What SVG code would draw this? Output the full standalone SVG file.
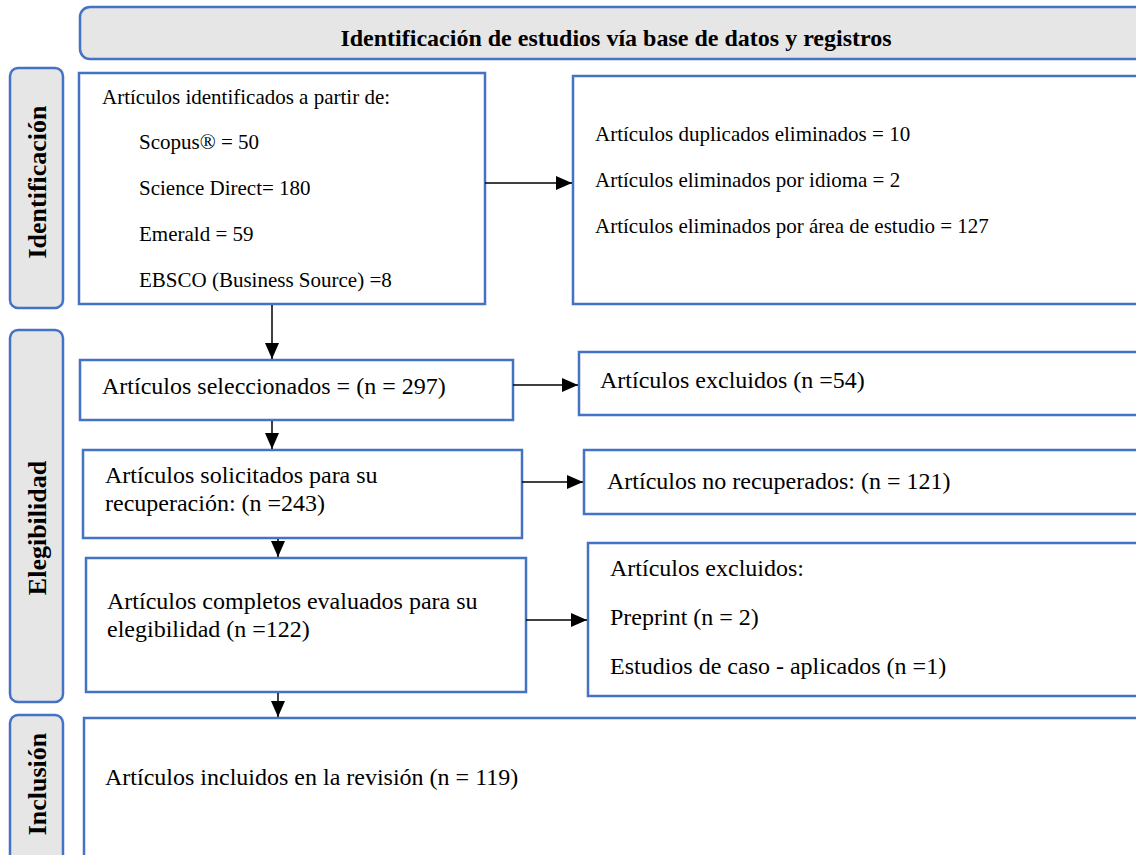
<svg xmlns="http://www.w3.org/2000/svg" width="1136" height="855" viewBox="0 0 1136 855">
<style>
.box{fill:#ffffff;stroke:#4472C4;stroke-width:2.5}
.lab{fill:#E7E6E6;stroke:#4472C4;stroke-width:2.5}
.t{font-family:"Liberation Serif","Times New Roman",serif;fill:#000}
.s21{font-size:21px}
.s24{font-size:24px}
.b{font-weight:bold}
.c{stroke:#000;stroke-width:1.5;fill:none;marker-end:url(#ah)}
</style>
<defs>
<marker id="ah" markerUnits="userSpaceOnUse" markerWidth="16" markerHeight="14" refX="16" refY="7" orient="auto">
<path d="M0,0 L16,7 L0,14 z" fill="#000"/>
</marker>
<clipPath id="hclip"><rect x="80" y="7" width="1080" height="44"/></clipPath>
</defs>
<rect width="1136" height="855" fill="#ffffff"/>

<g id="header">
<rect class="lab" x="80" y="7" width="1080" height="52" rx="10"/>
<text class="t b s24" x="616" y="46" text-anchor="middle" clip-path="url(#hclip)">Identificación de estudios vía base de datos y registros</text>
</g>

<g id="label-identificacion">
<rect class="lab" x="10" y="68" width="53" height="240" rx="8"/>
<text class="t b" font-size="26" transform="translate(46,182) rotate(-90)" text-anchor="middle">Identificación</text>
</g>

<g id="label-elegibilidad">
<rect class="lab" x="10" y="330" width="53" height="372" rx="8"/>
<text class="t b" font-size="26" transform="translate(46,528) rotate(-90)" text-anchor="middle">Elegibilidad</text>
</g>

<g id="label-inclusion">
<rect class="lab" x="10" y="715" width="53" height="200" rx="8"/>
<text class="t b" font-size="26" transform="translate(46,784) rotate(-90)" text-anchor="middle">Inclusión</text>
</g>

<g id="n-identificados">
<rect class="box" x="79" y="73" width="406" height="231"/>
<text class="t s21" x="102" y="104">Artículos identificados a partir de:</text>
<text class="t s21" x="139" y="149">Scopus® = 50</text>
<text class="t s21" x="139" y="195">Science Direct= 180</text>
<text class="t s21" x="139" y="241">Emerald = 59</text>
<text class="t s21" x="139" y="287">EBSCO (Business Source) =8</text>
</g>

<g id="n-eliminados">
<rect class="box" x="573" y="76" width="600" height="228"/>
<text class="t s21" x="595" y="141">Artículos duplicados eliminados = 10</text>
<text class="t s21" x="595" y="187">Artículos eliminados por idioma = 2</text>
<text class="t s21" x="595" y="233">Artículos eliminados por área de estudio = 127</text>
</g>

<g id="n-seleccionados">
<rect class="box" x="80" y="360" width="433" height="60"/>
<text class="t s24" x="102" y="394">Artículos seleccionados = (n = 297)</text>
</g>

<g id="n-excluidos1">
<rect class="box" x="579" y="352" width="600" height="63"/>
<text class="t s24" x="600" y="388">Artículos excluidos (n =54)</text>
</g>

<g id="n-solicitados">
<rect class="box" x="83" y="450" width="439" height="88"/>
<text class="t s24" x="105" y="483">Artículos solicitados para su</text>
<text class="t s24" x="105" y="511">recuperación: (n =243)</text>
</g>

<g id="n-norecuperados">
<rect class="box" x="584" y="450" width="600" height="64"/>
<text class="t s24" x="607" y="489">Artículos no recuperados: (n = 121)</text>
</g>

<g id="n-evaluados">
<rect class="box" x="86" y="558" width="440" height="134"/>
<text class="t s24" x="107" y="609">Artículos completos evaluados para su</text>
<text class="t s24" x="107" y="637">elegibilidad (n =122)</text>
</g>

<g id="n-excluidos2">
<rect class="box" x="588" y="543" width="600" height="153"/>
<text class="t s24" x="610" y="576">Artículos excluidos:</text>
<text class="t s24" x="610" y="625">Preprint (n = 2)</text>
<text class="t s24" x="610" y="674">Estudios de caso - aplicados (n =1)</text>
</g>

<g id="n-incluidos">
<rect class="box" x="84" y="718" width="1100" height="200"/>
<text class="t s24" x="105" y="785">Artículos incluidos en la revisión (n = 119)</text>
</g>

<g id="connectors">
<line class="c" x1="485" y1="183" x2="572" y2="183"/>
<line class="c" x1="272" y1="305" x2="272" y2="359"/>
<line class="c" x1="513" y1="385" x2="578" y2="385"/>
<line class="c" x1="272" y1="421" x2="272" y2="449"/>
<line class="c" x1="522" y1="482" x2="583" y2="482"/>
<line class="c" x1="278" y1="539" x2="278" y2="557"/>
<line class="c" x1="526" y1="620" x2="587" y2="620"/>
<line class="c" x1="278" y1="693" x2="278" y2="717"/>
</g>
</svg>
